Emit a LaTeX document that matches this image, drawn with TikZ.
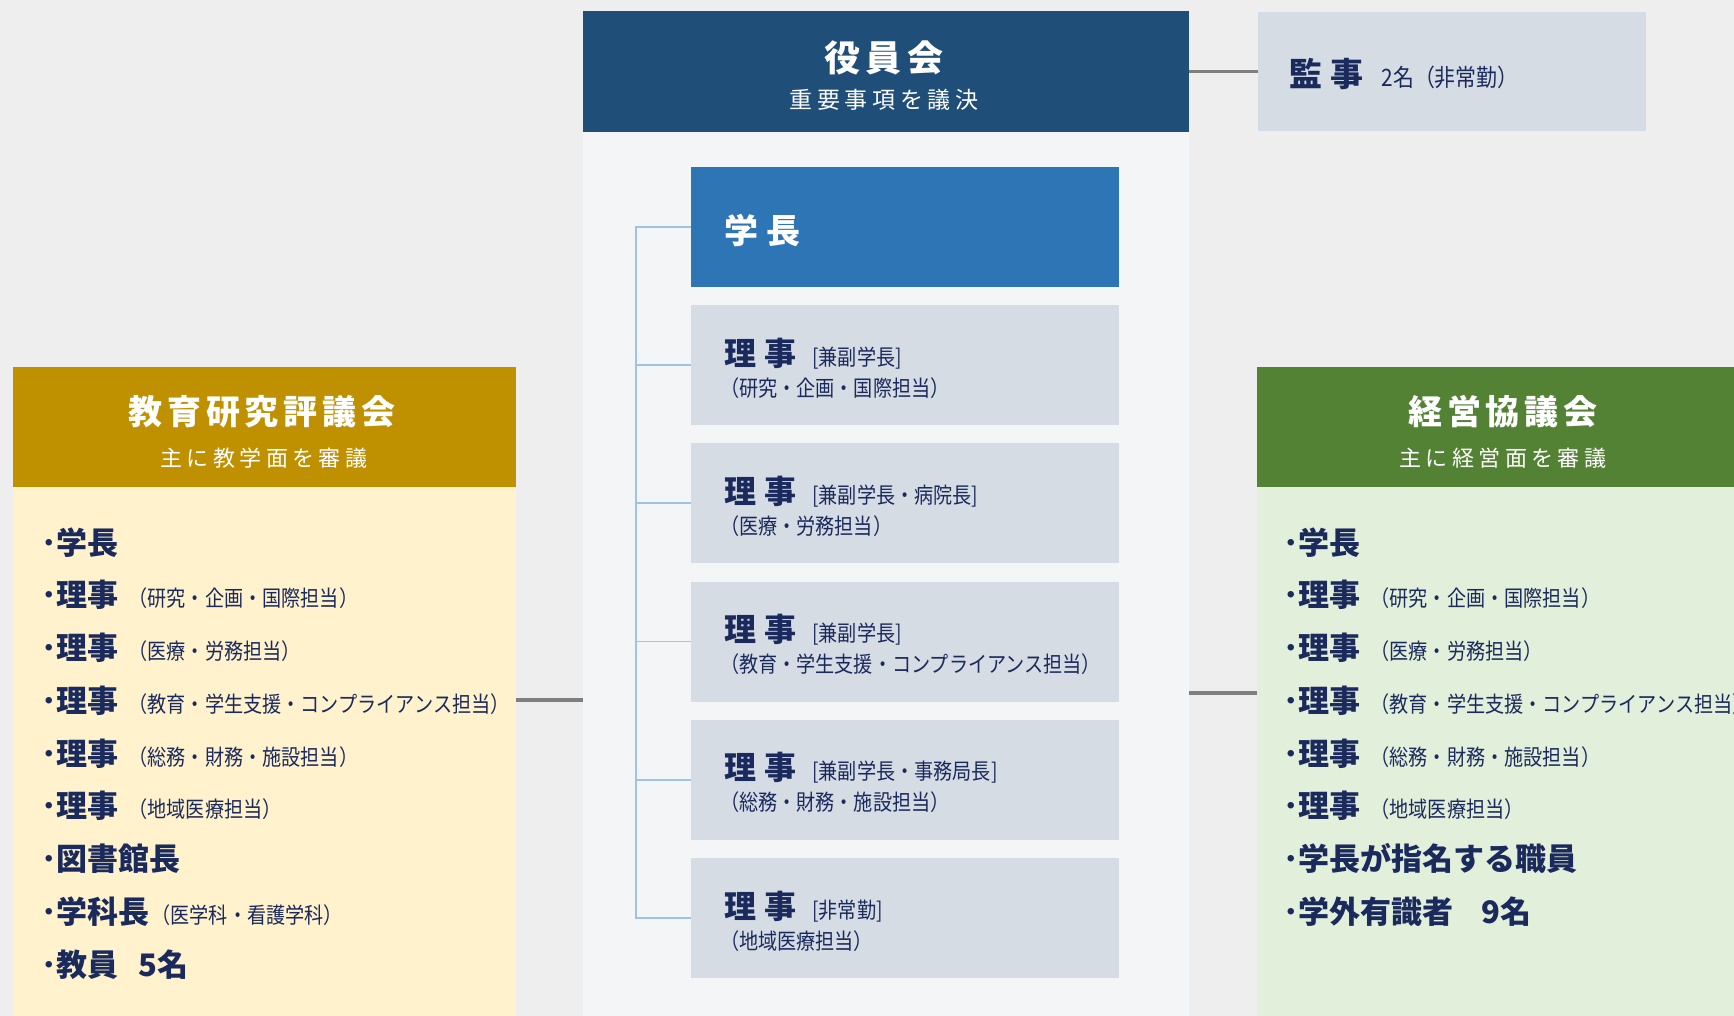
\documentclass[tikz,border=0pt]{standalone}
\usepackage{fontspec}
\setmainfont{Noto Sans CJK JP}
\newfontfamily\jpn[FakeStretch=0.87]{Noto Sans CJK JP}
\newfontfamily\jpa[LetterSpace=20]{Noto Sans CJK JP}
\newfontfamily\jpc[LetterSpace=14]{Noto Sans CJK JP}
\newfontfamily\jpb[LetterSpace=26]{Noto Sans CJK JP}
\definecolor{bgc}{HTML}{EEEEEE}
\definecolor{panelc}{HTML}{F4F5F7}
\definecolor{yakuinc}{HTML}{1F4E79}
\definecolor{gakuc}{HTML}{2E75B6}
\definecolor{rijic}{HTML}{D6DCE4}
\definecolor{goldc}{HTML}{BF9000}
\definecolor{goldbody}{HTML}{FFF2CC}
\definecolor{greenc}{HTML}{548235}
\definecolor{greenbody}{HTML}{E2EFDA}
\definecolor{navy}{HTML}{1B2A5C}
\definecolor{connc}{HTML}{7F7F7F}
\definecolor{brkc}{HTML}{9DC3E6}
\newcommand{\smalltx}[1]{{\jpn\fontsize{11}{13}\selectfont #1}}
\newcommand{\bigtx}[1]{{\bfseries\fontsize{15.5}{18}\selectfont #1}}
\begin{document}
\begin{tikzpicture}[x=0.5pt,y=-0.5pt,
  box/.style={rectangle,draw=none,inner sep=0pt,outer sep=0pt},
  txt/.style={anchor=base west,inner sep=0pt,outer sep=0pt,text=navy},
  ctxt/.style={anchor=base,inner sep=0pt,outer sep=0pt,text=white},
  conn/.style={draw=connc,line width=1.6pt},
  brk/.style={draw=brkc,line width=0.8pt}]
\clip (0,0) rectangle (1734,1016);
\fill[bgc] (0,0) rectangle (1734,1016);
% boxes
\node[box,fill=panelc,minimum width=303pt,minimum height=509.5pt] (panel) at (886,520.5) {};
\node[box,fill=yakuinc,minimum width=303pt,minimum height=60.5pt] (yakuin) at (886,71.5) {};
\node[box,fill=rijic,minimum width=194pt,minimum height=59.5pt] (kanji) at (1452,71.5) {};
\node[box,fill=gakuc,minimum width=214pt,minimum height=60pt] (gakucho) at (905,227) {};
\foreach \n/\y in {r1/365,r2/503.25,r3/641.5,r4/779.75,r5/918}
  \node[box,fill=rijic,minimum width=214pt,minimum height=60pt] (\n) at (905,\y) {};
\node[box,fill=goldc,minimum width=251.5pt,minimum height=60pt] (lhead) at (264.5,427) {};
\node[box,fill=goldbody,minimum width=251.5pt,minimum height=271.5pt] (lbody) at (264.5,758.5) {};
\node[box,fill=greenc,minimum width=251.5pt,minimum height=60pt] (rhead) at (1508.5,427) {};
\node[box,fill=greenbody,minimum width=251.5pt,minimum height=271.5pt] (rbody) at (1508.5,758.5) {};
% connectors
\draw[conn] (yakuin.east) -- (kanji.west);
\coordinate (lj) at (550,700);
\coordinate (rj) at (1220,693);
\draw[conn] (lj -| lbody.east) -- (lj -| panel.west);
\draw[conn] (rj -| panel.east) -- (rj -| rbody.west);
\coordinate (bx) at (636,0);
\draw[brk] (gakucho.west) -- (gakucho.west -| bx) -- (r5.west -| bx) -- (r5.west);
\foreach \n in {r1,r2,r3,r4}
  \draw[brk] (\n.west) -- (\n.west -| bx);
% top texts
\node[ctxt] (yt) at (884,72) {\jpc\bfseries\fontsize{18}{20}\selectfont 役員会};
\node[ctxt] (ys) at (884,109) {\jpa\fontsize{11.5}{14}\selectfont 重要事項を議決};
\node[txt] (kt) at (1289,86.5) {{\jpb\bfseries\fontsize{16.5}{20}\selectfont 監事}\hspace{9pt}{\jpn\fontsize{12}{14}\selectfont 2名（非常勤）}};
\node[txt,text=white] (gt) at (724,244) {\jpb\bfseries\fontsize{17}{20}\selectfont 学長};
% riji texts
\foreach \n/\a/\b in {r1/{[兼副学長]}/{（研究・企画・国際担当）},
                      r2/{[兼副学長・病院長]}/{（医療・労務担当）},
                      r3/{[兼副学長]}/{（教育・学生支援・コンプライアンス担当）},
                      r4/{[兼副学長・事務局長]}/{（総務・財務・施設担当）},
                      r5/{[非常勤]}/{（地域医療担当）}}{
  \node[txt] (\n a) at ([shift={(33,60)}]\n.north west) {{\jpb\bfseries\fontsize{16}{20}\selectfont 理事}\hspace{8pt}\smalltx{\a}};
  \node[txt] (\n b) at ([shift={(29,91)}]\n.north west) {\smalltx{\b}};
}
% header texts
\node[ctxt] (lt) at (262,424) {\jpc\bfseries\fontsize{17}{20}\selectfont 教育研究評議会};
\node[ctxt] (ls) at (264,466) {\jpa\fontsize{11}{14}\selectfont 主に教学面を審議};
\node[ctxt] (rt) at (1503,424) {\jpc\bfseries\fontsize{17}{20}\selectfont 経営協議会};
\node[ctxt] (rs) at (1503,466) {\jpa\fontsize{11}{14}\selectfont 主に経営面を審議};
% left list
\foreach \i/\t in {0/{\bigtx{･学長}},
  1/{\bigtx{･理事}\hspace{5pt}\smalltx{（研究・企画・国際担当）}},
  2/{\bigtx{･理事}\hspace{5pt}\smalltx{（医療・労務担当）}},
  3/{\bigtx{･理事}\hspace{5pt}\smalltx{（教育・学生支援・コンプライアンス担当）}},
  4/{\bigtx{･理事}\hspace{5pt}\smalltx{（総務・財務・施設担当）}},
  5/{\bigtx{･理事}\hspace{5pt}\smalltx{（地域医療担当）}},
  6/{\bigtx{･図書館長}},
  7/{\bigtx{･学科長}\hspace{1pt}\smalltx{（医学科・看護学科）}},
  8/{\bigtx{･教員\hspace{10pt}5名}}}
  \node[txt] (l\i) at (41,554+52.75*\i) {\t};
% right list
\foreach \i/\t in {0/{\bigtx{･学長}},
  1/{\bigtx{･理事}\hspace{5pt}\smalltx{（研究・企画・国際担当）}},
  2/{\bigtx{･理事}\hspace{5pt}\smalltx{（医療・労務担当）}},
  3/{\bigtx{･理事}\hspace{5pt}\smalltx{（教育・学生支援・コンプライアンス担当）}},
  4/{\bigtx{･理事}\hspace{5pt}\smalltx{（総務・財務・施設担当）}},
  5/{\bigtx{･理事}\hspace{5pt}\smalltx{（地域医療担当）}},
  6/{\bigtx{･学長が指名する職員}},
  7/{\bigtx{･学外有識者\hspace{14pt}9名}}}
  \node[txt] (q\i) at (1283,554+52.75*\i) {\t};
\end{tikzpicture}
\end{document}
